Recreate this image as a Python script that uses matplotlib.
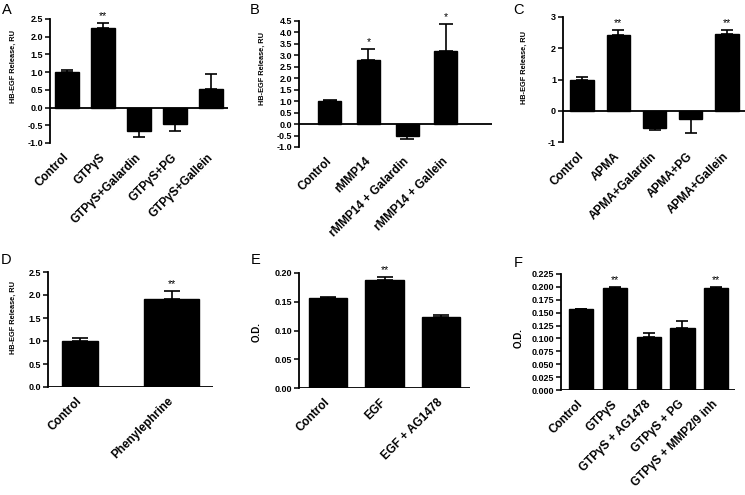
import matplotlib
matplotlib.use("Agg")
import matplotlib.pyplot as plt
import numpy as np

plt.rcParams['font.family'] = ['Liberation Sans', 'DejaVu Sans']

W, H = 745, 495

# ---------------- data ----------------
a_cats = ["Control", "GTPγS", "GTPγS+Galardin", "GTPγS+PG", "GTPγS+Gallein"]
a_vals = [1.0, 2.25, -0.67, -0.47, 0.52]
a_errs = [0.05, 0.15, 0.15, 0.20, 0.42]
a_sig = ["", "**", "", "", ""]
a_ticks = [-1.0, -0.5, 0.0, 0.5, 1.0, 1.5, 2.0, 2.5]

b_cats = ["Control", "rMMP14", "rMMP14 + Galardin", "rMMP14 + Gallein"]
b_vals = [1.0, 2.8, -0.5, 3.2]
b_errs = [0.07, 0.48, 0.13, 1.17]
b_sig = ["", "*", "", "*"]
b_ticks = [-1.0, -0.5, 0.0, 0.5, 1.0, 1.5, 2.0, 2.5, 3.0, 3.5, 4.0, 4.5]

c_cats = ["Control", "APMA", "APMA+Galardin", "APMA+PG", "APMA+Gallein"]
c_vals = [1.0, 2.42, -0.55, -0.25, 2.45]
c_errs = [0.07, 0.17, 0.08, 0.45, 0.15]
c_sig = ["", "**", "", "", "**"]
c_ticks = [-1, 0, 1, 2, 3]

d_cats = ["Control", "Phenylephrine"]
d_vals = [1.0, 1.92]
d_errs = [0.06, 0.16]
d_sig = ["", "**"]
d_ticks = [0.0, 0.5, 1.0, 1.5, 2.0, 2.5]

e_cats = ["Control", "EGF", "EGF + AG1478"]
e_vals = [0.157, 0.188, 0.124]
e_errs = [0.001, 0.005, 0.003]
e_sig = ["", "**", ""]
e_ticks = [0.00, 0.05, 0.10, 0.15, 0.20]

f_cats = ["Control", "GTPγS", "GTPγS + AG1478", "GTPγS + PG", "GTPγS + MMP2/9 inh"]
f_vals = [0.157, 0.198, 0.103, 0.120, 0.198]
f_errs = [0.001, 0.001, 0.007, 0.014, 0.001]
f_sig = ["", "**", "", "", "**"]
f_ticks = [0.000, 0.025, 0.050, 0.075, 0.100, 0.125, 0.150, 0.175, 0.200, 0.225]

fig = plt.figure(figsize=(W / 100, H / 100), dpi=100)


def make_ax(l, t, r, b):
    return fig.add_axes([l / W, 1 - b / H, (r - l) / W, (b - t) / H])


def panel(ax, cats, vals, errs, sig, ticks, fmt, ylabel, xlim, width,
          lab_xy, capsize, star_off, ylab_size=5.3):
    x = np.arange(len(cats))
    ax.bar(x, vals, width=width, color="black", edgecolor="black", zorder=2)
    for xi, v, e in zip(x, vals, errs):
        yerr = [[0], [e]] if v >= 0 else [[e], [0]]
        ax.errorbar([xi], [v], yerr=yerr, fmt="none", ecolor="black",
                    elinewidth=1.2, capsize=capsize, capthick=1.2, zorder=3)
    ax.set_ylim(ticks[0], ticks[-1])
    ax.set_xlim(*xlim)
    ax.set_yticks(ticks)
    ax.set_yticklabels([fmt.format(t) for t in ticks], fontsize=6.5,
                       fontweight="bold")
    ax.set_xticks(x)
    ax.set_xticklabels(cats, rotation=45, ha="right", va="center",
                       rotation_mode="anchor", fontsize=8.5, fontweight="bold")
    ax.tick_params(axis="x", length=0, pad=9)
    ax.tick_params(axis="y", length=3.5, width=1.1, pad=1.5)
    for s in ["top", "right", "bottom"]:
        ax.spines[s].set_visible(False)
    ax.spines["left"].set_linewidth(1.3)
    ax.axhline(0, color="black", lw=1.3, zorder=4)
    ax.set_ylabel(ylabel, fontsize=ylab_size, fontweight="bold")
    ax.yaxis.set_label_coords(*lab_xy)
    for xi, v, e, s in zip(x, vals, errs, sig):
        if s:
            ax.text(xi, v + e + star_off, s, ha="center", va="bottom",
                    fontsize=7.5)


hb = "HB-EGF Release, RU"

axA = make_ax(50, 19, 228, 143)
panel(axA, a_cats, a_vals, a_errs, a_sig, a_ticks, "{:.1f}", hb,
      (-0.47, 4.47), 0.67, (-0.185, 0.62), 4, 0.05)

axB = make_ax(299, 21, 492, 147)
panel(axB, b_cats, b_vals, b_errs, b_sig, b_ticks, "{:.1f}", hb,
      (-0.8, 4.2), 0.6, (-0.171, 0.62), 5, 0.08)

axC = make_ax(563, 17, 745, 142)
panel(axC, c_cats, c_vals, c_errs, c_sig, c_ticks, "{:d}", hb,
      (-0.53, 4.5), 0.65, (-0.195, 0.6), 4, 0.05)

axD = make_ax(48, 272, 213, 387)
panel(axD, d_cats, d_vals, d_errs, d_sig, d_ticks, "{:.1f}", hb,
      (-0.35, 1.45), [0.4, 0.6], (-0.188, 0.6), 6, 0.05)

axE = make_ax(299, 273, 470, 388)
panel(axE, e_cats, e_vals, e_errs, e_sig, e_ticks, "{:.2f}", "O.D.",
      (-0.51, 2.51), 0.68, (-0.216, 0.49), 6, 0.003, ylab_size=7)

axF = make_ax(561, 274, 735, 390)
panel(axF, f_cats, f_vals, f_errs, f_sig, f_ticks, "{:.3f}", "O.D.",
      (-0.6, 4.56), 0.72, (-0.213, 0.45), 4.5, 0.004, ylab_size=7)

for lab, px, py in [("A", 2, 3), ("B", 250, 3), ("C", 513, 3),
                    ("D", 1, 253), ("E", 251, 253), ("F", 514, 256)]:
    fig.text(px / W, 1 - py / H, lab, ha="left", va="top", fontsize=10.5)

fig.savefig("out.png", dpi=100)
